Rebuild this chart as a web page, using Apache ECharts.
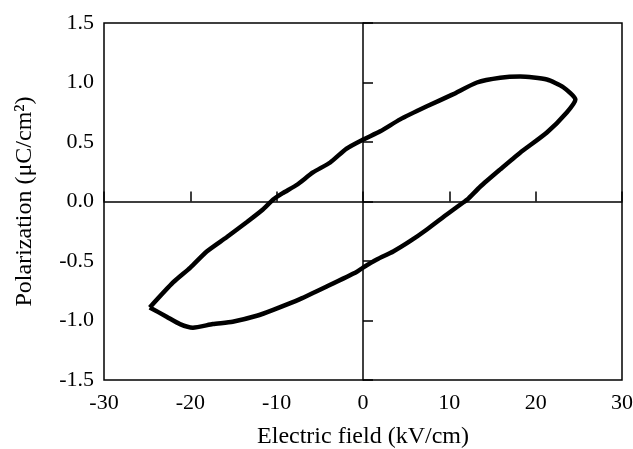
<!DOCTYPE html>
<html>
<head>
<meta charset="utf-8">
<script src="https://cdn.jsdelivr.net/npm/echarts@6/dist/echarts.min.js"></script>
<style>
html, body { margin: 0; padding: 0; background: #fff; }
#chart { width: 633px; height: 449px; }
</style>
</head>
<body>
<div id="chart"></div>
<script>
// hysteresis loop (upper branch then lower branch)
var efield = [-24.7, -22.0, -20.0, -18.1, -15.8, -13.4, -11.6, -10.4, -9.3, -7.6, -5.8, -3.8, -1.9, 0, 2.0, 4.3, 7.4, 10.4, 13.2, 15.9, 18.2, 21.3, 23.2, 24.6,
              23.6, 21.3, 18.2, 15.9, 13.6, 12.1, 11.6, 9.7, 7.4, 5.4, 3.5, 1.6, 0, -0.7, -4.2, -7.3, -10.4, -12.3, -15.1, -17.4, -19.7, -21.2, -22.7, -24.7];
var polarization = [-0.89, -0.68, -0.555, -0.42, -0.30, -0.17, -0.067, 0.017, 0.07, 0.143, 0.244, 0.328, 0.445, 0.52, 0.59, 0.69, 0.80, 0.90, 1.0, 1.04, 1.05, 1.025, 0.96, 0.857,
                    0.748, 0.58, 0.41, 0.27, 0.126, 0.017, -0.008, -0.109, -0.235, -0.336, -0.42, -0.487, -0.555, -0.59, -0.714, -0.82, -0.91, -0.96, -1.01, -1.03, -1.06, -1.03, -0.97, -0.89];
var xTicks = [-30, 30, 10];
var yTicks = [-1.5, 1.5, 0.5];

var loop = [];
for (var i = 0; i < efield.length; i++) {
    loop.push([efield[i], polarization[i]]);
}

var font = 'Liberation Serif';
var myChart = echarts.init(document.getElementById('chart'));
var option = {
    animation: false,
    grid: {
        left: 104, right: 11, top: 23, bottom: 69,
        outerBoundsMode: 'none',
        containLabel: false,
        show: true,
        borderColor: '#000',
        borderWidth: 1.5
    },
    xAxis: [
        {
            type: 'value',
            min: xTicks[0], max: xTicks[1], interval: xTicks[2],
            position: 'bottom',
            axisLine: { show: false, onZero: false },
            axisTick: { show: false },
            splitLine: { show: false },
            axisLabel: { color: '#000', fontFamily: font, fontSize: 22, margin: 12 },
            name: 'Electric field (kV/cm)',
            nameLocation: 'middle',
            nameGap: 45,
            nameTextStyle: { color: '#000', fontFamily: font, fontSize: 24 }
        },
        {
            type: 'value',
            min: xTicks[0], max: xTicks[1], interval: xTicks[2],
            position: 'bottom',
            axisLine: { show: true, onZero: true, lineStyle: { color: '#000', width: 1.5 } },
            axisTick: { show: true, inside: true, length: 10, lineStyle: { color: '#000', width: 1.5 } },
            splitLine: { show: false },
            axisLabel: { show: false }
        }
    ],
    yAxis: [
        {
            type: 'value',
            min: yTicks[0], max: yTicks[1], interval: yTicks[2],
            position: 'left',
            axisLine: { show: false, onZero: false },
            axisTick: { show: false },
            splitLine: { show: false },
            axisLabel: {
                color: '#000', fontFamily: font, fontSize: 22, margin: 10,
                formatter: function (v) { return v.toFixed(1); }
            },
            name: 'Polarization (μC/cm²)',
            nameLocation: 'middle',
            nameRotate: 90,
            nameGap: 67,
            nameTextStyle: { color: '#000', fontFamily: font, fontSize: 24 }
        },
        {
            type: 'value',
            min: yTicks[0], max: yTicks[1], interval: yTicks[2],
            position: 'left',
            axisLine: { show: true, onZero: true, lineStyle: { color: '#000', width: 1.5 } },
            axisTick: { show: true, inside: true, length: 10, lineStyle: { color: '#000', width: 1.5 } },
            splitLine: { show: false },
            axisLabel: { show: false }
        }
    ],
    series: [
        {
            type: 'line',
            xAxisIndex: 0,
            yAxisIndex: 0,
            data: loop,
            showSymbol: false,
            smooth: 0.2,
            lineStyle: { color: '#000', width: 4.5 }
        }
    ]
};
myChart.setOption(option);
</script>
</body>
</html>
